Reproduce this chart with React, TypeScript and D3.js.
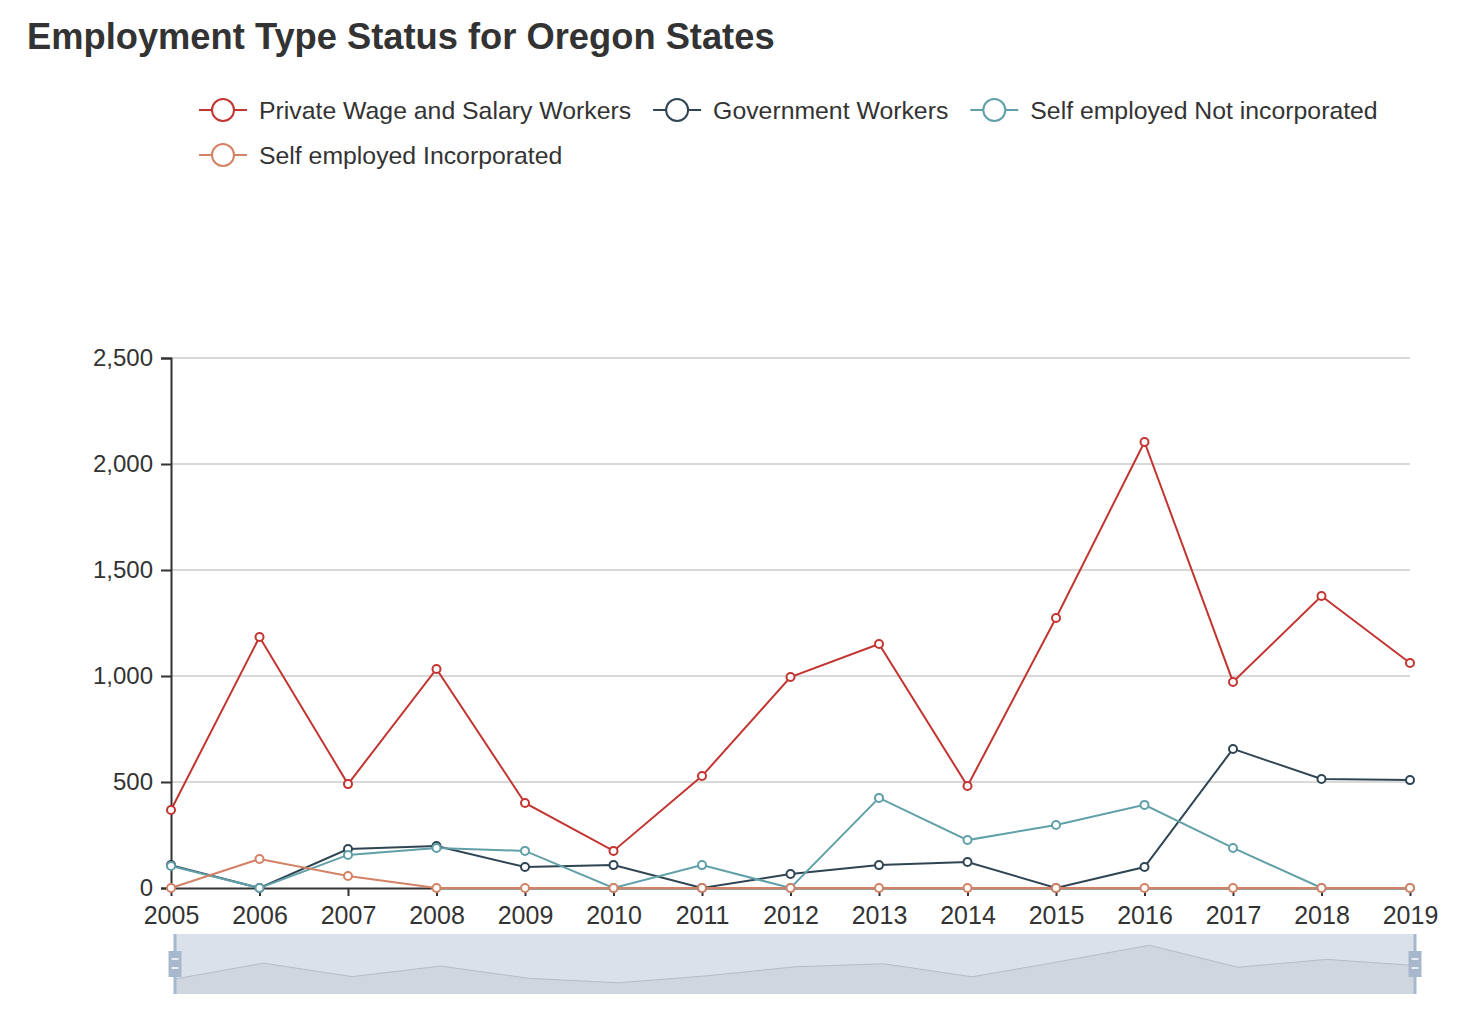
import * as d3 from 'd3'
import { useEffect, useRef } from 'react';

const years = ['2005', '2006', '2007', '2008', '2009', '2010', '2011', '2012', '2013', '2014', '2015', '2016', '2017', '2018', '2019'];
const privateWage = [368, 1184, 490, 1033, 401, 175, 528, 995, 1151, 481, 1274, 2104, 972, 1377, 1061];
const government = [108, 0, 184, 198, 99, 108, 0, 66, 108, 123, 0, 99, 656, 514, 509];
const selfNotInc = [104, 0, 156, 189, 175, 0, 108, 0, 425, 226, 297, 392, 189, 0, 0];
const selfInc = [0, 137, 57, 0, 0, 0, 0, 0, 0, 0, 0, 0, 0, 0, 0];
const yTicks = [0, 500, 1000, 1500, 2000, 2500];

const seriesList = [
    { name: 'Private Wage and Salary Workers', values: privateWage, color: '#c23531' },
    { name: 'Government Workers', values: government, color: '#2f4554' },
    { name: 'Self employed Not incorporated', values: selfNotInc, color: '#61a0a8' },
    { name: 'Self employed Incorporated', values: selfInc, color: '#d48265' },
];

const FONT = '"Liberation Sans", Arial, sans-serif';

function drawChart(node: SVGSVGElement) {
    const svg = d3.select(node);
    svg.selectAll('*').remove();

    const left = 171, right = 1410, top = 358, bottom = 888;
    const x = d3.scalePoint().domain(years).range([left, right]);
    const y = d3.scaleLinear().domain([0, 2500]).range([bottom, top]);

    // title
    svg.append('text').text('Employment Type Status for Oregon States')
        .attr('x', 27).attr('y', 49)
        .attr('font-family', FONT).attr('font-weight', 'bold')
        .attr('font-size', 36.3).attr('fill', '#333');

    // legend (two rows like the original)
    const rows = [[0, 1, 2], [3]];
    rows.forEach((row, ri) => {
        let cx = 199;
        const cy = 110 + ri * 45;
        row.forEach(si => {
            const s = seriesList[si];
            const g = svg.append('g');
            g.append('line').attr('x1', cx).attr('x2', cx + 48).attr('y1', cy).attr('y2', cy)
                .attr('stroke', s.color).attr('stroke-width', 2);
            g.append('circle').attr('cx', cx + 24).attr('cy', cy).attr('r', 11)
                .attr('fill', '#fff').attr('stroke', s.color).attr('stroke-width', 2);
            const t = g.append('text').text(s.name)
                .attr('x', cx + 60).attr('y', cy).attr('dy', '0.35em')
                .attr('font-family', FONT).attr('font-size', 24.8).attr('fill', '#333');
            const w = (t.node() as SVGTextElement).getComputedTextLength();
            cx += 60 + w + 22;
        });
    });

    // grid lines
    svg.append('g').selectAll('line').data(yTicks.filter(d => d > 0)).join('line')
        .attr('x1', left).attr('x2', right)
        .attr('y1', d => y(d)).attr('y2', d => y(d))
        .attr('stroke', '#ccc').attr('stroke-width', 1.5);

    // y axis
    const gy = svg.append('g').attr('transform', `translate(${left},0)`)
        .call(d3.axisLeft(y).tickValues(yTicks).tickFormat(d3.format(',')).tickSize(10).tickPadding(8));
    gy.select('.domain').attr('stroke', '#333').attr('stroke-width', 2);
    gy.selectAll('.tick line').attr('stroke', '#333').attr('stroke-width', 2);
    gy.selectAll('text').attr('font-family', FONT).attr('font-size', 24).attr('fill', '#333');

    // x axis
    const gx = svg.append('g').attr('transform', `translate(0,${bottom})`)
        .call(d3.axisBottom(x).tickSize(8).tickPadding(10).tickSizeOuter(0));
    gx.select('.domain').attr('stroke', '#333').attr('stroke-width', 2);
    gx.selectAll('.tick line').attr('stroke', '#333').attr('stroke-width', 2);
    gx.selectAll('text').attr('font-family', FONT).attr('font-size', 25).attr('fill', '#333');

    // series
    const line = d3.line<number>().x((_, i) => x(years[i]) as number).y(d => y(d));
    seriesList.forEach(s => {
        svg.append('path').datum(s.values).attr('d', line)
            .attr('fill', 'none').attr('stroke', s.color).attr('stroke-width', 2);
    });
    seriesList.forEach(s => {
        svg.append('g').selectAll('circle').data(s.values).join('circle')
            .attr('cx', (_, i) => x(years[i]) as number).attr('cy', d => y(d)).attr('r', 4)
            .attr('fill', '#fff').attr('stroke', s.color).attr('stroke-width', 2);
    });

    // data zoom slider with data shadow of the first series
    const zl = 175, zr = 1415, zt = 934, zb = 994;
    svg.append('rect').attr('x', zl).attr('y', zt).attr('width', zr - zl).attr('height', zb - zt)
        .attr('fill', '#dbe1ea');
    const ext = d3.extent(privateWage) as [number, number];
    const pad = (ext[1] - ext[0]) * 0.3;
    const sx = d3.scalePoint().domain(years).range([zl, zr]);
    const sy = d3.scaleLinear().domain([ext[0] - pad, ext[1] + pad]).range([zb, zt]);
    const area = d3.area<number>().x((_, i) => sx(years[i]) as number).y0(zb).y1(d => sy(d));
    svg.append('path').datum(privateWage).attr('d', area).attr('fill', '#cfd6e0');
    svg.append('path').datum(privateWage).attr('d', d3.line<number>().x((_, i) => sx(years[i]) as number).y(d => sy(d)))
        .attr('fill', 'none').attr('stroke', '#b4bcc8').attr('stroke-width', 1);
    [zl, zr].forEach(hx => {
        svg.append('rect').attr('x', hx - 1.5).attr('y', zt).attr('width', 3).attr('height', zb - zt)
            .attr('fill', '#a7b7cc');
        svg.append('rect').attr('x', hx - 6.5).attr('y', 951).attr('width', 13).attr('height', 26)
            .attr('fill', '#a7b7cc');
        [959, 968].forEach(ly => {
            svg.append('line').attr('x1', hx - 3.5).attr('x2', hx + 3.5).attr('y1', ly).attr('y2', ly)
                .attr('stroke', '#fff').attr('stroke-width', 1.5);
        });
    });
}

function App() {
    const ref = useRef<SVGSVGElement>(null);
    useEffect(() => {
        if (ref.current) drawChart(ref.current);
    });

    return (
        <svg ref={ref} width={1468} height={1030}
            style={{ position: 'absolute', left: 0, top: 0, background: '#fff' }}>
        </svg>
    );
}

export default App;
